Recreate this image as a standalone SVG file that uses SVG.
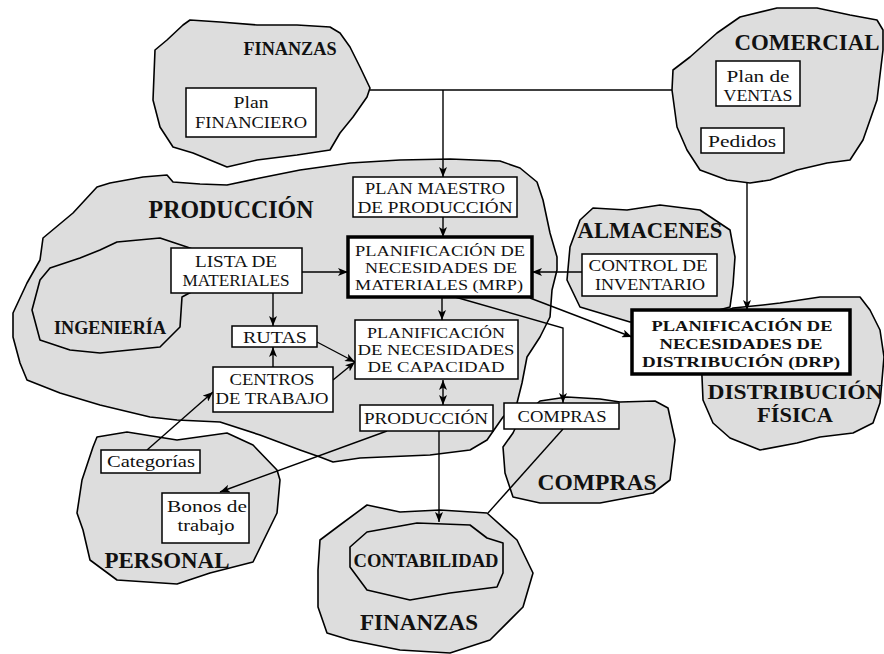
<svg xmlns="http://www.w3.org/2000/svg" width="884" height="654" viewBox="0 0 884 654">
<defs>
<marker id="ah" markerUnits="userSpaceOnUse" markerWidth="10" markerHeight="8" refX="10" refY="4" orient="auto-start-reverse">
<path d="M0,0 L10,4 L0,8 L2.5,4 z" fill="#000"/>
</marker>
<style>
.blob{fill:#dddddd;stroke:#000;stroke-width:1.6;stroke-linejoin:round}
.box{fill:#fff;stroke:#000;stroke-width:1.5}
.tbox{fill:#fff;stroke:#000;stroke-width:3.5}
.t{font-family:"Liberation Serif","Times New Roman",serif;font-size:17px;fill:#111;text-anchor:middle}
.s{font-size:15px}
.h{font-family:"Liberation Serif","Times New Roman",serif;font-weight:bold;fill:#111;text-anchor:middle}
.b{font-family:"Liberation Serif","Times New Roman",serif;font-weight:bold;font-size:15px;fill:#111;text-anchor:middle}
.c{fill:none;stroke:#000;stroke-width:1.4}
.ca{fill:none;stroke:#000;stroke-width:1.4;marker-end:url(#ah)}
</style>
</defs>

<g id="blob-finanzas-top">
<path class="blob" d="M183,25 L190,20 L220,22 L257,25 L297,25 L330,27 L340,33 L350,47 L360,67 L370,88 L367,97 L353,117 L340,133 L330,150 L297,155 L257,160 L227,167 L193,153 L173,147 L160,127 L153,100 L155,50 L167,40 Z"/>
<text class="h" x="290" y="55" font-size="19" textLength="93" lengthAdjust="spacingAndGlyphs">FINANZAS</text>
</g>
<g id="blob-comercial">
<path class="blob" d="M740,17 L777,8 L817,8 L850,15 L877,20 L883,30 L883,50 L877,100 L863,140 L850,160 L827,163 L797,170 L770,180 L750,183 L727,180 L700,170 L687,150 L677,127 L672,90 L673,70 L690,57 L717,33 Z"/>
<text class="h" x="807" y="50" font-size="23" textLength="145" lengthAdjust="spacingAndGlyphs">COMERCIAL</text>
</g>
<g id="blob-produccion">
<path class="blob" d="M97,187 L110,183 L143,177 L167,175 L173,182 L200,184 L227,185 L260,178 L300,170 L350,163 L400,160 L450,159 L500,161 L520,168 L537,182 L543,200 L550,233 L557,257 L557,270 L552,290 L550,317 L540,337 L527,357 L522,383 L517,403 L503,417 L487,440 L470,450 L430,455 L383,457 L360,458 L333,462 L320,457 L300,450 L260,435 L220,422 L177,420 L150,417 L100,405 L60,393 L27,380 L20,363 L13,337 L13,313 L27,283 L40,260 L43,238 L73,213 Z"/>
<text class="h" x="231" y="218" font-size="25" textLength="165" lengthAdjust="spacingAndGlyphs">PRODUCCIÓN</text>
</g>
<g id="blob-ingenieria">
<path class="blob" d="M195,250 L187,247 L160,238 L117,242 L100,250 L80,258 L50,268 L40,280 L32,310 L40,340 L70,350 L100,353 L160,347 L180,327 L182,297 L195,290 Z"/>
<text class="h" x="110" y="334" font-size="19" textLength="112" lengthAdjust="spacingAndGlyphs">INGENIERÍA</text>
</g>
<g id="blob-almacenes">
<path class="blob" d="M593,208 L627,210 L660,205 L700,210 L730,230 L735,257 L733,285 L730,307 L700,315 L630,322 L580,307 L567,280 L570,247 L580,220 Z"/>
<text class="h" x="650" y="238" font-size="23" textLength="145" lengthAdjust="spacingAndGlyphs">ALMACENES</text>
</g>
<g id="blob-distribucion">
<path class="blob" d="M733,308 L763,305 L780,303 L820,297 L860,297 L870,310 L880,330 L884,357 L880,403 L873,423 L853,433 L820,437 L797,443 L760,450 L730,438 L713,423 L703,400 L702,377 L700,340 L720,315 Z"/>
<text class="h" x="795" y="399" font-size="21" textLength="175" lengthAdjust="spacingAndGlyphs">DISTRIBUCIÓN</text>
<text class="h" x="795" y="422" font-size="21" textLength="76" lengthAdjust="spacingAndGlyphs">FÍSICA</text>
</g>
<g id="blob-compras">
<path class="blob" d="M513,433 L503,447 L505,473 L513,497 L540,503 L600,503 L653,493 L670,480 L675,440 L668,408 L655,401 L620,402 L600,399 L567,397 L540,401 L520,418 Z"/>
<text class="h" x="597" y="490" font-size="24" textLength="119" lengthAdjust="spacingAndGlyphs">COMPRAS</text>
</g>
<g id="blob-personal">
<path class="blob" d="M97,437 L127,432 L177,440 L227,433 L253,445 L277,470 L280,480 L277,513 L253,562 L210,573 L177,584 L117,580 L90,560 L83,530 L77,513 L82,480 L93,447 Z"/>
<text class="h" x="167" y="568" font-size="24" textLength="125" lengthAdjust="spacingAndGlyphs">PERSONAL</text>
</g>
<g id="blob-finanzas-bottom">
<path class="blob" d="M320,540 L340,525 L367,505 L400,512 L440,510 L487,513 L517,540 L533,573 L523,607 L490,640 L450,653 L400,650 L350,640 L327,633 L318,607 L318,570 Z"/>
<text class="h" x="419" y="630" font-size="24" textLength="118" lengthAdjust="spacingAndGlyphs">FINANZAS</text>
</g>
<g id="blob-contabilidad">
<path class="blob" d="M350,547 L367,532 L417,523 L470,525 L487,538 L503,543 L503,573 L497,587 L450,593 L410,600 L367,590 L350,567 Z"/>
<text class="h" x="426" y="567" font-size="19" textLength="145" lengthAdjust="spacingAndGlyphs">CONTABILIDAD</text>
</g>

<g id="connectors">
<path class="c" d="M370,90 L672,90"/>
<path class="ca" d="M443,90 L443,177"/>
<path class="ca" d="M747,183 L747,310"/>
<path class="ca" d="M443,217 L443,237"/>
<path class="ca" d="M302,272 L348,272"/>
<path class="ca" d="M582,272 L532,272"/>
<path class="ca" d="M442,297 L442,320"/>
<path class="ca" d="M273,293 L273,326"/>
<path class="ca" d="M273,367 L273,347"/>
<path class="ca" d="M317,342 L355,362"/>
<path class="ca" d="M333,380 L355,362"/>
<path class="ca" d="M443,380 L443,405" marker-start="url(#ah)"/>
<path class="ca" d="M455,297 L563,328 L563,403"/>
<path class="ca" d="M530,298 L632,337"/>
<path class="ca" d="M147,450 L213,392"/>
<path class="ca" d="M387,431 L220,492"/>
<path class="ca" d="M439,431 L439,522"/>
<path class="c" d="M563,429 L488,513"/>
</g>

<g id="node-plan-financiero">
<rect class="box" x="186" y="88" width="130" height="49"/>
<text class="t" x="251" y="108" textLength="35" lengthAdjust="spacingAndGlyphs">Plan</text>
<text class="t" x="251" y="128" textLength="112" lengthAdjust="spacingAndGlyphs">FINANCIERO</text>
</g>
<g id="node-plan-ventas">
<rect class="box" x="716" y="61" width="84" height="45"/>
<text class="t" x="758" y="82" textLength="63" lengthAdjust="spacingAndGlyphs">Plan de</text>
<text class="t" x="758" y="101" textLength="69" lengthAdjust="spacingAndGlyphs">VENTAS</text>
</g>
<g id="node-pedidos">
<rect class="box" x="701" y="128" width="83" height="25"/>
<text class="t" x="742" y="147" textLength="68" lengthAdjust="spacingAndGlyphs">Pedidos</text>
</g>
<g id="node-plan-maestro">
<rect class="box" x="353" y="177" width="164" height="40"/>
<text class="t" x="435" y="194" textLength="140" lengthAdjust="spacingAndGlyphs">PLAN MAESTRO</text>
<text class="t" x="435" y="213" textLength="155" lengthAdjust="spacingAndGlyphs">DE PRODUCCIÓN</text>
</g>
<g id="node-mrp">
<rect class="tbox" x="348" y="237" width="184" height="60"/>
<text class="t s" x="440" y="256" textLength="170" lengthAdjust="spacingAndGlyphs">PLANIFICACIÓN DE</text>
<text class="t s" x="441" y="273" textLength="152" lengthAdjust="spacingAndGlyphs">NECESIDADES DE</text>
<text class="t s" x="439" y="290" textLength="168" lengthAdjust="spacingAndGlyphs">MATERIALES (MRP)</text>
</g>
<g id="node-lista">
<rect class="box" x="171" y="248" width="131" height="45"/>
<text class="t" x="236" y="267" textLength="82" lengthAdjust="spacingAndGlyphs">LISTA DE</text>
<text class="t" x="236" y="286" textLength="107" lengthAdjust="spacingAndGlyphs">MATERIALES</text>
</g>
<g id="node-control">
<rect class="box" x="582" y="254" width="135" height="42"/>
<text class="t" x="648" y="271" textLength="119" lengthAdjust="spacingAndGlyphs">CONTROL DE</text>
<text class="t" x="650" y="290" textLength="110" lengthAdjust="spacingAndGlyphs">INVENTARIO</text>
</g>
<g id="node-drp">
<rect class="tbox" x="632" y="310" width="218" height="64"/>
<text class="b" x="742" y="331" textLength="181" lengthAdjust="spacingAndGlyphs">PLANIFICACIÓN DE</text>
<text class="b" x="741" y="349" textLength="163" lengthAdjust="spacingAndGlyphs">NECESIDADES DE</text>
<text class="b" x="741" y="367" textLength="198" lengthAdjust="spacingAndGlyphs">DISTRIBUCIÓN (DRP)</text>
</g>
<g id="node-rutas">
<rect class="box" x="232" y="326" width="85" height="21"/>
<text class="t" x="275" y="343" textLength="64" lengthAdjust="spacingAndGlyphs">RUTAS</text>
</g>
<g id="node-capacidad">
<rect class="box" x="355" y="320" width="163" height="59"/>
<text class="t s" x="436" y="338" textLength="138" lengthAdjust="spacingAndGlyphs">PLANIFICACIÓN</text>
<text class="t s" x="436" y="355" textLength="157" lengthAdjust="spacingAndGlyphs">DE NECESIDADES</text>
<text class="t s" x="436" y="372" textLength="137" lengthAdjust="spacingAndGlyphs">DE CAPACIDAD</text>
</g>
<g id="node-centros">
<rect class="box" x="213" y="367" width="120" height="45"/>
<text class="t" x="272" y="385" textLength="85" lengthAdjust="spacingAndGlyphs">CENTROS</text>
<text class="t" x="272" y="404" textLength="113" lengthAdjust="spacingAndGlyphs">DE TRABAJO</text>
</g>
<g id="node-produccion">
<rect class="box" x="360" y="405" width="133" height="26"/>
<text class="t" x="426" y="424" textLength="124" lengthAdjust="spacingAndGlyphs">PRODUCCIÓN</text>
</g>
<g id="node-compras">
<rect class="box" x="504" y="403" width="115" height="26"/>
<text class="t" x="562" y="422" textLength="89" lengthAdjust="spacingAndGlyphs">COMPRAS</text>
</g>
<g id="node-categorias">
<rect class="box" x="101" y="450" width="99" height="23"/>
<text class="t" x="151" y="467" textLength="88" lengthAdjust="spacingAndGlyphs">Categorías</text>
</g>
<g id="node-bonos">
<rect class="box" x="162" y="493" width="87" height="50"/>
<text class="t" x="207" y="512" textLength="80" lengthAdjust="spacingAndGlyphs">Bonos de</text>
<text class="t" x="206" y="531" textLength="57" lengthAdjust="spacingAndGlyphs">trabajo</text>
</g>
</svg>
